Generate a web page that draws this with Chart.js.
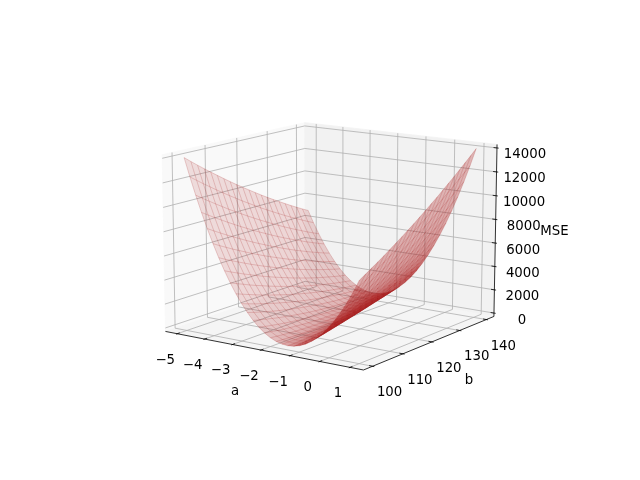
<!DOCTYPE html>
<html>
<head>
<meta charset="utf-8">
<style>html,body{margin:0;padding:0;background:#fff}#wrap{width:640px;height:480px}</style>
<script src="https://cdn.jsdelivr.net/npm/chart.js@4"></script>
</head>
<body>
<div id="wrap"><canvas id="myChart" width="640" height="480"></canvas></div>
<script>
// Tick labels
const aTicks = [-5, -4, -3, -2, -1, 0, 1];
const bTicks = [100, 110, 120, 130, 140];
const zTicks = [0, 2000, 4000, 6000, 8000, 10000, 12000, 14000];

// Wireframe grid, values
const aValues = [-5, -4.8, -4.6, -4.4, -4.2, -4, -3.8, -3.6, -3.4, -3.2, -3, -2.8, -2.6, -2.4, -2.2, -2, -1.8, -1.6, -1.4, -1.2, -1, -0.8, -0.6, -0.4, -0.2, 0, 0.2, 0.4, 0.6, 0.8, 1];
const bValues = [100, 102, 104, 106, 108, 110, 112, 114, 116, 118, 120, 122, 124, 126, 128, 130, 132, 134, 136, 138, 140];
// one row per a, one column per b
const mseRows = [
  [14000,13560,13130,12710,12300,11900,11500,11110,10730,10360,10000,9640,9290,8950,8620,8300,7980,7670,7370,7080,6800],
  [12490,12080,11670,11280,10890,10510,10140,9780,9420,9080,8740,8400,8080,7770,7460,7160,6870,6590,6310,6040,5780],
  [11070,10680,10300,9930,9570,9210,8870,8530,8200,7880,7560,7260,6960,6670,6380,6110,5840,5590,5330,5090,4860],
  [9730,9370,9010,8670,8330,8000,7680,7370,7060,6760,6480,6190,5920,5650,5400,5150,4910,4670,4450,4230,4020],
  [8480,8140,7810,7490,7180,6880,6580,6290,6010,5740,5470,5220,4970,4730,4490,4270,4050,3840,3640,3450,3270],
  [7320,7000,6700,6400,6120,5840,5560,5300,5040,4800,4560,4330,4100,3890,3680,3480,3290,3100,2930,2760,2600],
  [6240,5950,5670,5400,5140,4880,4640,4400,4170,3940,3730,3520,3320,3130,2950,2770,2610,2450,2300,2150,2020],
  [5250,4980,4730,4480,4250,4020,3790,3580,3370,3180,2990,2800,2630,2460,2300,2150,2010,1880,1750,1630,1520],
  [4340,4100,3880,3650,3440,3240,3040,2850,2670,2500,2330,2170,2020,1880,1750,1620,1510,1400,1300,1200,1120],
  [3520,3310,3110,2910,2720,2540,2370,2210,2050,1900,1760,1630,1500,1390,1280,1180,1090,1000,920,860,800],
  [2790,2600,2420,2250,2090,1930,1790,1650,1520,1390,1280,1170,1070,980,890,820,750,690,640,600,560],
  [2150,1980,1830,1680,1540,1410,1290,1170,1070,970,880,800,720,650,590,540,500,470,440,420,410],
  [1590,1450,1320,1200,1080,980,880,790,710,630,570,510,460,420,380,360,340,330,330,330,350],
  [1120,1000,900,800,710,630,560,490,440,390,350,310,290,270,260,260,270,280,310,340,380],
  [730,640,560,490,420,370,320,280,250,220,210,200,200,210,220,250,280,320,370,420,490],
  [430,370,310,260,220,190,170,150,150,150,160,170,200,230,270,320,370,440,510,590,680],
  [220,180,150,120,110,100,100,110,130,160,190,230,280,340,400,480,560,650,740,850,960],
  [90,80,70,70,80,100,130,160,200,250,310,380,450,530,620,720,830,940,1060,1190,1330],
  [50,60,80,110,140,180,240,290,360,440,520,610,710,820,930,1060,1190,1330,1470,1630,1790],
  [90,130,170,230,290,350,430,510,610,710,810,930,1050,1190,1330,1470,1630,1790,1970,2150,2330],
  [230,290,360,430,520,610,710,820,940,1060,1190,1330,1480,1640,1810,1980,2160,2350,2540,2750,2960],
  [440,530,620,720,830,950,1080,1210,1350,1500,1660,1830,2000,2180,2370,2570,2770,2990,3210,3440,3680],
  [750,860,980,1110,1240,1380,1530,1690,1860,2030,2210,2400,2600,2810,3020,3250,3480,3710,3960,4220,4480],
  [1140,1280,1420,1570,1730,1900,2070,2260,2450,2650,2860,3070,3290,3530,3760,4010,4270,4530,4800,5080,5370],
  [1620,1780,1950,2120,2310,2500,2700,2910,3120,3350,3580,3820,4070,4330,4590,4860,5140,5430,5730,6030,6340],
  [2180,2370,2560,2760,2970,3190,3410,3650,3890,4140,4390,4660,4930,5210,5500,5800,6100,6420,6740,7070,7400],
  [2830,3040,3260,3490,3720,3960,4210,4470,4740,5010,5290,5580,5880,6180,6500,6820,7150,7490,7830,8190,8550],
  [3570,3810,4050,4300,4560,4820,5100,5380,5670,5970,6280,6590,6910,7240,7580,7930,8280,8650,9020,9400,9780],
  [4390,4650,4920,5200,5480,5770,6070,6380,6690,7020,7350,7690,8040,8390,8760,9130,9510,9900,10290,10690,11110],
  [5300,5590,5880,6180,6490,6810,7130,7460,7800,8150,8510,8870,9240,9630,10010,10410,10810,11230,11650,12080,12510],
  [6300,6610,6930,7250,7580,7930,8280,8630,9000,9370,9750,10140,10540,10940,11360,11780,12210,12640,13090,13540,14000],
];

const aLim = [-5.3, 1.3], bLim = [98, 142], zLim = [0, 14000];
const elev = 12.5 * Math.PI / 180, azim = -55 * Math.PI / 180, dist = 10;
const box = [1.1428, 1.1428, 0.8571];
const scale = 2000, cx = 332, cy = 237.5;

// 3d data -> 2d view plane, same camera model as mplot3d
function project(a, b, z) {
  const p = [(a - aLim[0]) / (aLim[1] - aLim[0]) * box[0] - box[0] / 2,
             (b - bLim[0]) / (bLim[1] - bLim[0]) * box[1] - box[1] / 2,
             (z - zLim[0]) / (zLim[1] - zLim[0]) * box[2] - box[2] / 2];
  const n = [Math.cos(elev) * Math.cos(azim), Math.cos(elev) * Math.sin(azim), Math.sin(elev)];
  const u = [-Math.sin(azim), Math.cos(azim), 0];
  const v = [n[1] * u[2] - n[2] * u[1], n[2] * u[0] - n[0] * u[2], n[0] * u[1] - n[1] * u[0]];
  const w = dist - (p[0] * n[0] + p[1] * n[1] + p[2] * n[2]);
  return {x: (p[0] * u[0] + p[1] * u[1]) / w, y: (p[0] * v[0] + p[1] * v[1] + p[2] * v[2]) / w};
}

const da = (aLim[1] - aLim[0]) / 48, db = (bLim[1] - bLim[0]) / 48, dz = (zLim[1] - zLim[0]) / 48;
const a0 = aLim[0] - da, a1 = aLim[1] + da, b0 = bLim[0] - db, b1 = bLim[1] + db, z0 = zLim[0] - dz, z1 = zLim[1] + dz;
const aTick = (a1 - a0) / 12, bTick = (b1 - b0) / 12;

function line(points, color, width, extra) {
  return Object.assign({data: points.map(q => project(q[0], q[1], q[2])), showLine: true, pointRadius: 0,
    borderColor: color, borderWidth: width, fill: false, tension: 0}, extra || {});
}
function pane(points, color) {
  return line(points, color, 0.8, {backgroundColor: color, fill: "shape"});
}

const gridColor = "#b0b0b0";
const wireColor = "rgba(165,30,30,0.4)";

const datasets = [
  pane([[a0,b0,z0],[a0,b1,z0],[a0,b1,z1],[a0,b0,z1],[a0,b0,z0]], "#f9f9f9"),
  pane([[a0,b1,z0],[a1,b1,z0],[a1,b1,z1],[a0,b1,z1],[a0,b1,z0]], "#f2f2f2"),
  pane([[a0,b0,z0],[a1,b0,z0],[a1,b1,z0],[a0,b1,z0],[a0,b0,z0]], "#f5f5f5"),
];
aTicks.forEach(t => datasets.push(line([[t,b0,z0],[t,b1,z0],[t,b1,z1]], gridColor, 0.8)));
bTicks.forEach(t => datasets.push(line([[a1,t,z0],[a0,t,z0],[a0,t,z1]], gridColor, 0.8)));
zTicks.forEach(t => datasets.push(line([[a0,b0,t],[a0,b1,t],[a1,b1,t]], gridColor, 0.8)));

// axis lines and tick marks
datasets.push(line([[a0,b0,z0],[a1,b0,z0]], "#000", 0.8));
datasets.push(line([[a1,b0,z0],[a1,b1,z0]], "#000", 0.8));
datasets.push(line([[a1,b1,z0],[a1,b1,z1]], "#000", 0.8));
aTicks.forEach(t => datasets.push(line([[t,b0-0.1*bTick,z0],[t,b0+0.2*bTick,z0]], "#000", 0.8)));
bTicks.forEach(t => datasets.push(line([[a1+0.1*aTick,t,z0],[a1-0.2*aTick,t,z0]], "#000", 0.8)));
zTicks.forEach(t => datasets.push(line([[a1+0.1*aTick,b1,t],[a1-0.2*aTick,b1,t]], "#000", 0.8)));

// the reference mesh is far denser than this table, so each cell gets a tint
// as strong as the ink such a mesh would put there (tighter cell = darker)
const dist2 = (p, q) => Math.hypot(p.x - q.x, p.y - q.y) * scale;
function cellTint(c) {
  const area = Math.abs((c[2].x - c[0].x) * (c[3].y - c[1].y) - (c[3].x - c[1].x) * (c[2].y - c[0].y)) / 2 * scale * scale;
  const alongA = (dist2(c[0], c[1]) + dist2(c[3], c[2])) / 2;
  const alongB = (dist2(c[0], c[3]) + dist2(c[1], c[2])) / 2;
  const ink = 0.17 * (6 * alongB + 2 * alongA) / Math.max(area, 1);
  return Math.min(0.8, ink);
}
for (let i = 0; i < aValues.length - 1; i++) {
  for (let j = 0; j < bValues.length - 1; j++) {
    const corners = [[i, j], [i + 1, j], [i + 1, j + 1], [i, j + 1], [i, j]]
      .map(k => [aValues[k[0]], bValues[k[1]], mseRows[k[0]][k[1]]]);
    const tint = cellTint(corners.map(q => project(q[0], q[1], q[2])));
    datasets.push(line(corners, "rgba(0,0,0,0)", 0, {backgroundColor: `rgba(175,35,35,${tint.toFixed(3)})`, fill: "shape"}));
  }
}
// wireframe
mseRows.forEach((row, i) => datasets.push(line(row.map((z, j) => [aValues[i], bValues[j], z]), wireColor, 0.5)));
bValues.forEach((b, j) => datasets.push(line(aValues.map((a, i) => [a, b, mseRows[i][j]]), wireColor, 0.5)));
datasets.reverse();  // chart.js paints the first dataset last

const tickText = t => String(t).replace("-", "\u2212");
const axisText = {
  id: "axisText",
  afterDraw(chart) {
    const {ctx, scales} = chart;
    const put = (text, q, dx, dy) => {
      const s = project(q[0], q[1], q[2]);
      ctx.fillText(text, scales.x.getPixelForValue(s.x) + dx, scales.y.getPixelForValue(s.y) + dy);
    };
    ctx.save();
    ctx.font = "13.3px 'DejaVu Sans'";
    ctx.fillStyle = "#000";
    ctx.textAlign = "center";
    ctx.textBaseline = "middle";
    aTicks.forEach(t => put(tickText(t), [t, b0, z0], -12, 26.5));
    bTicks.forEach(t => put(tickText(t), [a1, t, z0], 17, 26.5));
    zTicks.forEach(t => put(tickText(t), [a1, b1, t], 28, 7));
    put("a", [-2, b0, z0], -26, 41);
    put("b", [a1, 120, z0], 37, 39);
    put("MSE", [a1, b1, 7000], 59, 0);
    ctx.restore();
  },
};

new Chart(document.getElementById("myChart"), {
  type: "scatter",
  data: {datasets},
  plugins: [axisText],
  options: {
    responsive: false,
    animation: false,
    layout: {padding: 0},
    plugins: {legend: {display: false}, tooltip: {enabled: false}},
    scales: {
      x: {display: false, min: -cx / scale, max: (640 - cx) / scale},
      y: {display: false, min: -(480 - cy) / scale, max: cy / scale},
    },
  },
});
</script>
</body>
</html>
